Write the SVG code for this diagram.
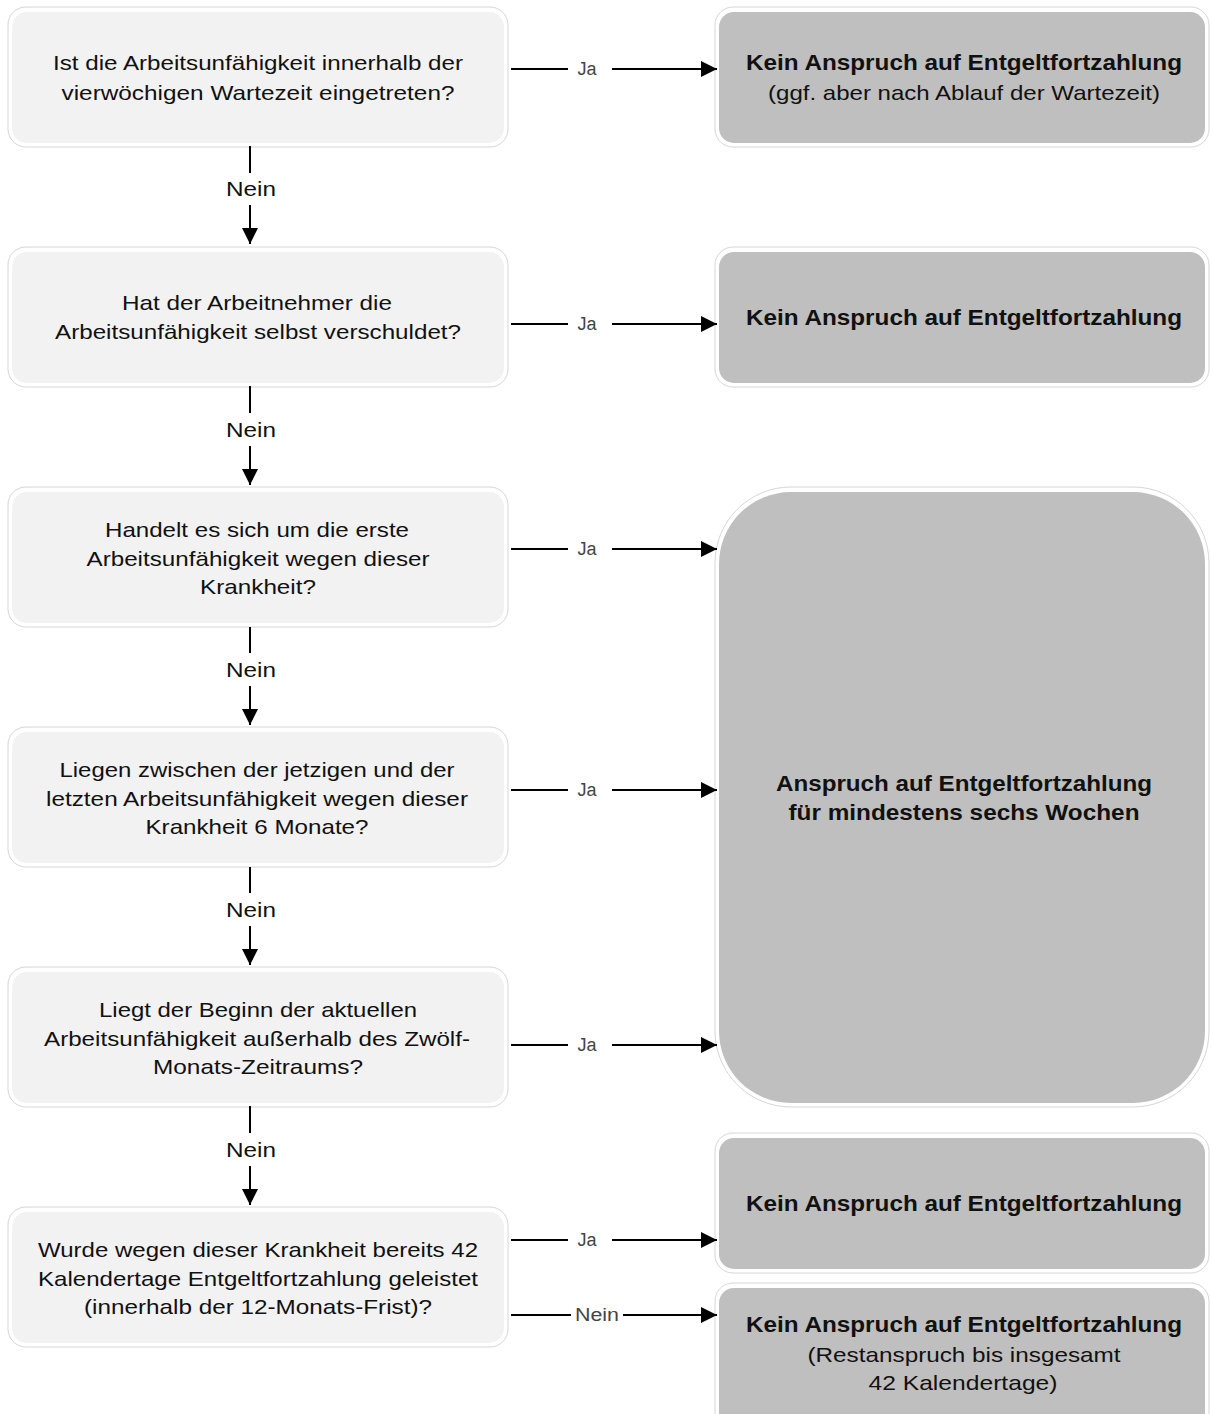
<svg xmlns="http://www.w3.org/2000/svg" width="1211" height="1414" viewBox="0 0 1211 1414">
<style>
.ob{fill:#ffffff;stroke:#d6d6d6;stroke-width:1}
.qf{fill:#f2f2f2}
.rf{fill:#bfbfbf}
.q{font-family:"Liberation Sans",Arial,sans-serif;font-size:21px;fill:#111;text-anchor:middle}
.r{font-family:"Liberation Sans",Arial,sans-serif;font-size:21px;fill:#111;text-anchor:middle}
.b{font-weight:bold;font-size:22px}
.lj{font-family:"Liberation Sans",Arial,sans-serif;font-size:18px;fill:#444;text-anchor:middle}
.ln{font-family:"Liberation Sans",Arial,sans-serif;font-size:21px;fill:#111;text-anchor:middle}
.c{stroke:#000;stroke-width:2;fill:none}
</style>
<defs>
<marker id="ah" viewBox="0 0 16 16" refX="16" refY="8" markerWidth="16" markerHeight="16" markerUnits="userSpaceOnUse" orient="auto">
<path d="M0,0 L16,8 L0,16 Z" fill="#000"/>
</marker>
</defs>
<rect width="1211" height="1414" fill="#fff"/>

<g id="q1">
<rect class="ob" x="8" y="7" width="500" height="140" rx="18"/>
<rect class="qf" x="12" y="12" width="492" height="131" rx="15"/>
<text class="q" x="258" y="70" textLength="410" lengthAdjust="spacingAndGlyphs">Ist die Arbeitsunfähigkeit innerhalb der</text>
<text class="q" x="258" y="100" textLength="393" lengthAdjust="spacingAndGlyphs">vierwöchigen Wartezeit eingetreten?</text>
</g>
<g id="q2">
<rect class="ob" x="8" y="247" width="500" height="140" rx="18"/>
<rect class="qf" x="12" y="252" width="492" height="131" rx="15"/>
<text class="q" x="257" y="310" textLength="270" lengthAdjust="spacingAndGlyphs">Hat der Arbeitnehmer die</text>
<text class="q" x="258" y="339" textLength="406" lengthAdjust="spacingAndGlyphs">Arbeitsunfähigkeit selbst verschuldet?</text>
</g>
<g id="q3">
<rect class="ob" x="8" y="487" width="500" height="140" rx="18"/>
<rect class="qf" x="12" y="492" width="492" height="131" rx="15"/>
<text class="q" x="257" y="537" textLength="304" lengthAdjust="spacingAndGlyphs">Handelt es sich um die erste</text>
<text class="q" x="258" y="566" textLength="343" lengthAdjust="spacingAndGlyphs">Arbeitsunfähigkeit wegen dieser</text>
<text class="q" x="258" y="594" textLength="116" lengthAdjust="spacingAndGlyphs">Krankheit?</text>
</g>
<g id="q4">
<rect class="ob" x="8" y="727" width="500" height="140" rx="18"/>
<rect class="qf" x="12" y="732" width="492" height="131" rx="15"/>
<text class="q" x="257" y="777" textLength="395" lengthAdjust="spacingAndGlyphs">Liegen zwischen der jetzigen und der</text>
<text class="q" x="257" y="806" textLength="422" lengthAdjust="spacingAndGlyphs">letzten Arbeitsunfähigkeit wegen dieser</text>
<text class="q" x="257" y="834" textLength="223" lengthAdjust="spacingAndGlyphs">Krankheit 6 Monate?</text>
</g>
<g id="q5">
<rect class="ob" x="8" y="967" width="500" height="140" rx="18"/>
<rect class="qf" x="12" y="972" width="492" height="131" rx="15"/>
<text class="q" x="258" y="1017" textLength="318" lengthAdjust="spacingAndGlyphs">Liegt der Beginn der aktuellen</text>
<text class="q" x="257" y="1046" textLength="426" lengthAdjust="spacingAndGlyphs">Arbeitsunfähigkeit außerhalb des Zwölf-</text>
<text class="q" x="258" y="1074" textLength="210" lengthAdjust="spacingAndGlyphs">Monats-Zeitraums?</text>
</g>
<g id="q6">
<rect class="ob" x="8" y="1207" width="500" height="140" rx="18"/>
<rect class="qf" x="12" y="1212" width="492" height="131" rx="15"/>
<text class="q" x="258" y="1257" textLength="440" lengthAdjust="spacingAndGlyphs">Wurde wegen dieser Krankheit bereits 42</text>
<text class="q" x="258" y="1286" textLength="440" lengthAdjust="spacingAndGlyphs">Kalendertage Entgeltfortzahlung geleistet</text>
<text class="q" x="258" y="1314" textLength="348" lengthAdjust="spacingAndGlyphs">(innerhalb der 12-Monats-Frist)?</text>
</g>

<g id="r1">
<rect class="ob" x="715" y="7" width="494" height="140" rx="18"/>
<rect class="rf" x="719" y="12" width="486" height="131" rx="15"/>
<text class="r b" x="964" y="70" textLength="436" lengthAdjust="spacingAndGlyphs">Kein Anspruch auf Entgeltfortzahlung</text>
<text class="r" x="964" y="100" textLength="392" lengthAdjust="spacingAndGlyphs">(ggf. aber nach Ablauf der Wartezeit)</text>
</g>
<g id="r2">
<rect class="ob" x="715" y="247" width="494" height="140" rx="18"/>
<rect class="rf" x="719" y="252" width="486" height="131" rx="15"/>
<text class="r b" x="964" y="325" textLength="436" lengthAdjust="spacingAndGlyphs">Kein Anspruch auf Entgeltfortzahlung</text>
</g>
<g id="r3">
<rect class="ob" x="715" y="487" width="494" height="620" rx="76"/>
<rect class="rf" x="719" y="492" width="486" height="611" rx="72"/>
<text class="r b" x="964" y="791" textLength="376" lengthAdjust="spacingAndGlyphs">Anspruch auf Entgeltfortzahlung</text>
<text class="r b" x="964" y="820" textLength="351" lengthAdjust="spacingAndGlyphs">für mindestens sechs Wochen</text>
</g>
<g id="r4">
<rect class="ob" x="715" y="1133" width="494" height="140" rx="18"/>
<rect class="rf" x="719" y="1138" width="486" height="131" rx="15"/>
<text class="r b" x="964" y="1211" textLength="436" lengthAdjust="spacingAndGlyphs">Kein Anspruch auf Entgeltfortzahlung</text>
</g>
<g id="r5">
<rect class="ob" x="715" y="1283" width="494" height="150" rx="18"/>
<rect class="rf" x="719" y="1288" width="486" height="140" rx="15"/>
<text class="r b" x="964" y="1332" textLength="436" lengthAdjust="spacingAndGlyphs">Kein Anspruch auf Entgeltfortzahlung</text>
<text class="r" x="964" y="1362" textLength="313" lengthAdjust="spacingAndGlyphs">(Restanspruch bis insgesamt</text>
<text class="r" x="963" y="1390" textLength="189" lengthAdjust="spacingAndGlyphs">42 Kalendertage)</text>
</g>

<g id="connectors">
<line class="c" x1="511" y1="69" x2="568" y2="69"/>
<text class="lj" x="587" y="75">Ja</text>
<line class="c" x1="612" y1="69" x2="717" y2="69" marker-end="url(#ah)"/>
<line class="c" x1="511" y1="324" x2="568" y2="324"/>
<text class="lj" x="587" y="330">Ja</text>
<line class="c" x1="612" y1="324" x2="717" y2="324" marker-end="url(#ah)"/>
<line class="c" x1="511" y1="549" x2="568" y2="549"/>
<text class="lj" x="587" y="555">Ja</text>
<line class="c" x1="612" y1="549" x2="717" y2="549" marker-end="url(#ah)"/>
<line class="c" x1="511" y1="790" x2="568" y2="790"/>
<text class="lj" x="587" y="796">Ja</text>
<line class="c" x1="612" y1="790" x2="717" y2="790" marker-end="url(#ah)"/>
<line class="c" x1="511" y1="1045" x2="568" y2="1045"/>
<text class="lj" x="587" y="1051">Ja</text>
<line class="c" x1="612" y1="1045" x2="717" y2="1045" marker-end="url(#ah)"/>
<line class="c" x1="511" y1="1240" x2="568" y2="1240"/>
<text class="lj" x="587" y="1246">Ja</text>
<line class="c" x1="612" y1="1240" x2="717" y2="1240" marker-end="url(#ah)"/>
<line class="c" x1="511" y1="1315" x2="571" y2="1315"/>
<text class="lj" x="597" y="1321" textLength="44" lengthAdjust="spacingAndGlyphs">Nein</text>
<line class="c" x1="623" y1="1315" x2="717" y2="1315" marker-end="url(#ah)"/>

<line class="c" x1="250" y1="146" x2="250" y2="173"/>
<text class="ln" x="251" y="196" textLength="50" lengthAdjust="spacingAndGlyphs">Nein</text>
<line class="c" x1="250" y1="205" x2="250" y2="244" marker-end="url(#ah)"/>
<line class="c" x1="250" y1="386" x2="250" y2="413"/>
<text class="ln" x="251" y="437" textLength="50" lengthAdjust="spacingAndGlyphs">Nein</text>
<line class="c" x1="250" y1="446" x2="250" y2="485" marker-end="url(#ah)"/>
<line class="c" x1="250" y1="627" x2="250" y2="653"/>
<text class="ln" x="251" y="677" textLength="50" lengthAdjust="spacingAndGlyphs">Nein</text>
<line class="c" x1="250" y1="686" x2="250" y2="725" marker-end="url(#ah)"/>
<line class="c" x1="250" y1="867" x2="250" y2="893"/>
<text class="ln" x="251" y="917" textLength="50" lengthAdjust="spacingAndGlyphs">Nein</text>
<line class="c" x1="250" y1="926" x2="250" y2="965" marker-end="url(#ah)"/>
<line class="c" x1="250" y1="1106" x2="250" y2="1133"/>
<text class="ln" x="251" y="1157" textLength="50" lengthAdjust="spacingAndGlyphs">Nein</text>
<line class="c" x1="250" y1="1166" x2="250" y2="1205" marker-end="url(#ah)"/>
</g>
</svg>
